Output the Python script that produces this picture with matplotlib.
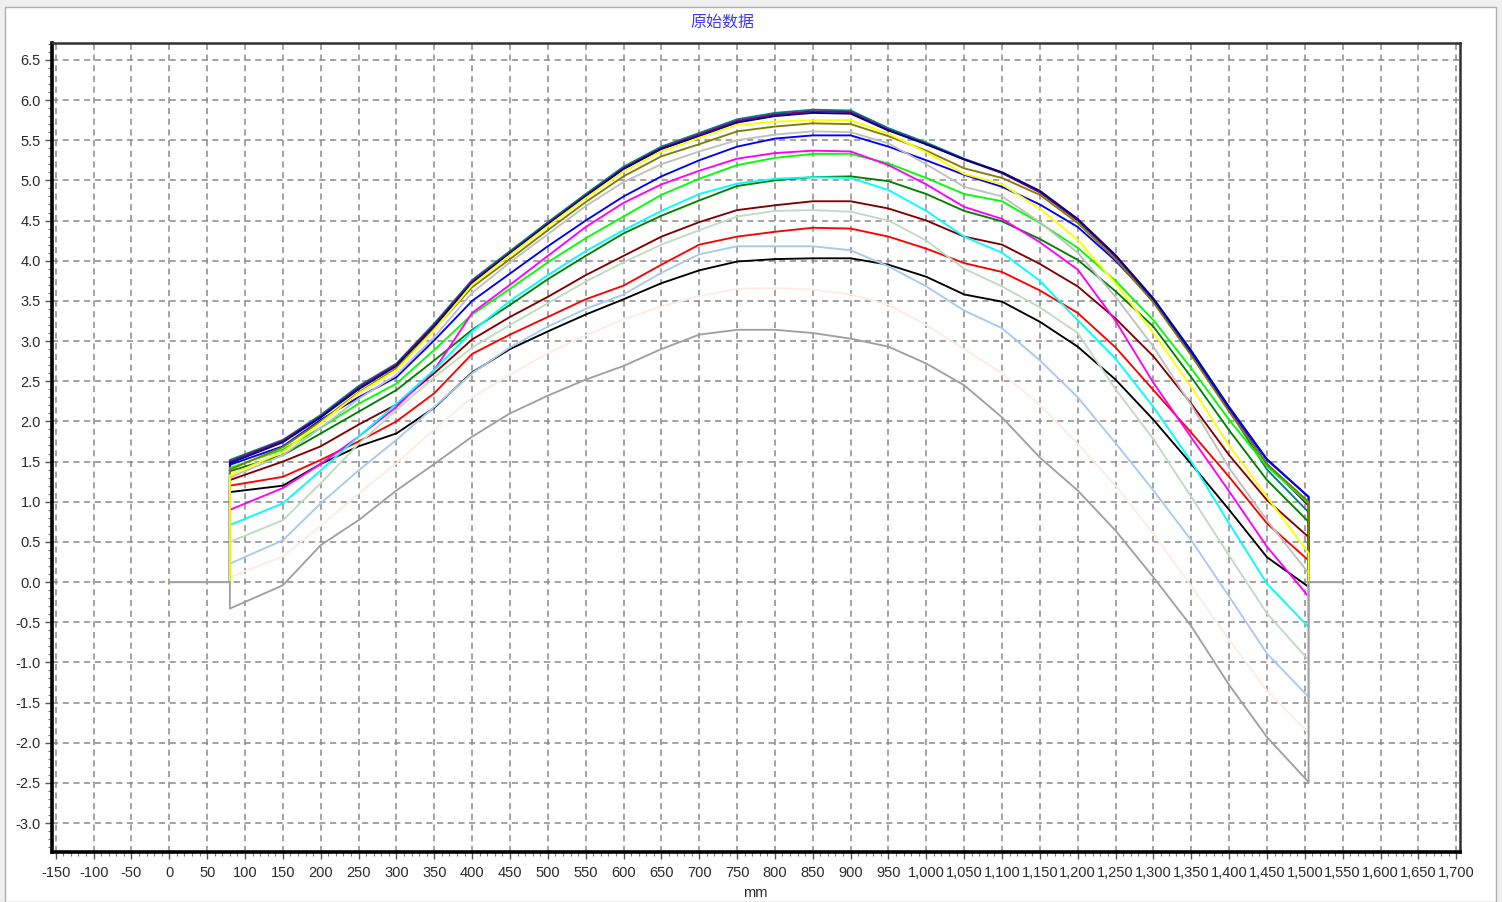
import matplotlib
matplotlib.use("Agg")
import matplotlib.pyplot as plt
from matplotlib.patches import Rectangle
from matplotlib.ticker import FixedLocator, MultipleLocator, FuncFormatter
import numpy as np

# sample positions along the profile (mm)
x_mm = [80, 150, 200, 250, 300, 350, 400, 450, 500, 550, 600, 650, 700, 750, 800, 850, 900,
        950, 1000, 1050, 1100, 1150, 1200, 1250, 1300, 1350, 1400, 1450, 1505]
# flat zero line before/after the measured part
base_left = [0, 80]
base_right = [1505, 1550]

teal    = [1.52, 1.77, 2.08, 2.44, 2.72, 3.22, 3.76, 4.12, 4.48, 4.83, 5.17, 5.42, 5.59, 5.76, 5.84, 5.88, 5.87,
           5.65, 5.47, 5.27, 5.10, 4.86, 4.51, 4.05, 3.51, 2.85, 2.14, 1.40, 0.87]
purple  = [1.50, 1.76, 2.06, 2.42, 2.71, 3.20, 3.74, 4.10, 4.46, 4.81, 5.15, 5.40, 5.57, 5.74, 5.82, 5.86, 5.85,
           5.63, 5.45, 5.26, 5.09, 4.85, 4.50, 4.05, 3.50, 2.85, 2.15, 1.47, 0.95]
navy    = [1.48, 1.74, 2.05, 2.40, 2.69, 3.18, 3.72, 4.09, 4.45, 4.80, 5.14, 5.39, 5.55, 5.72, 5.80, 5.84, 5.83,
           5.62, 5.45, 5.26, 5.10, 4.87, 4.52, 4.07, 3.53, 2.88, 2.18, 1.53, 1.06]
olive   = [1.40, 1.68, 2.00, 2.36, 2.66, 3.15, 3.67, 4.02, 4.38, 4.73, 5.05, 5.30, 5.45, 5.61, 5.67, 5.71, 5.70,
           5.55, 5.37, 5.15, 5.03, 4.82, 4.47, 4.02, 3.48, 2.82, 2.12, 1.47, 1.00]
yellow  = [1.33, 1.62, 1.98, 2.35, 2.64, 3.14, 3.70, 4.07, 4.43, 4.78, 5.11, 5.36, 5.53, 5.69, 5.73, 5.75, 5.75,
           5.58, 5.35, 5.08, 4.95, 4.65, 4.26, 3.72, 3.10, 2.43, 1.70, 1.06, 0.36]
silver  = [1.30, 1.58, 1.92, 2.28, 2.58, 3.05, 3.60, 3.98, 4.33, 4.68, 4.98, 5.20, 5.36, 5.50, 5.57, 5.61, 5.60,
           5.46, 5.20, 4.92, 4.80, 4.48, 4.10, 3.55, 2.93, 2.20, 1.42, 0.77, 0.11]
blue    = [1.46, 1.69, 2.02, 2.30, 2.55, 3.01, 3.50, 3.84, 4.18, 4.50, 4.80, 5.05, 5.25, 5.42, 5.52, 5.56, 5.56,
           5.42, 5.25, 5.07, 4.92, 4.70, 4.42, 4.00, 3.50, 2.85, 2.17, 1.52, 1.06]
magenta = [0.90, 1.17, 1.47, 1.81, 2.18, 2.64, 3.35, 3.70, 4.06, 4.42, 4.72, 4.95, 5.12, 5.27, 5.34, 5.37, 5.36,
           5.19, 4.95, 4.67, 4.52, 4.23, 3.89, 3.25, 2.48, 1.80, 1.13, 0.44, -0.18]
lime    = [1.42, 1.65, 1.92, 2.22, 2.47, 2.89, 3.33, 3.65, 3.98, 4.28, 4.55, 4.82, 5.02, 5.19, 5.28, 5.33, 5.33,
           5.21, 5.03, 4.83, 4.74, 4.47, 4.16, 3.75, 3.26, 2.66, 2.02, 1.44, 0.98]
cyan    = [0.71, 0.98, 1.39, 1.81, 2.22, 2.64, 3.12, 3.50, 3.82, 4.12, 4.38, 4.62, 4.83, 4.96, 5.02, 5.04, 5.03,
           4.88, 4.62, 4.30, 4.10, 3.75, 3.26, 2.78, 2.18, 1.50, 0.73, -0.02, -0.56]
dkgreen = [1.38, 1.58, 1.85, 2.12, 2.39, 2.76, 3.14, 3.45, 3.77, 4.06, 4.34, 4.56, 4.75, 4.93, 5.00, 5.04, 5.05,
           4.99, 4.83, 4.62, 4.49, 4.27, 4.01, 3.62, 3.18, 2.55, 1.89, 1.27, 0.75]
maroon  = [1.27, 1.50, 1.69, 1.96, 2.21, 2.60, 3.02, 3.30, 3.55, 3.82, 4.06, 4.30, 4.48, 4.63, 4.69, 4.74, 4.74,
           4.65, 4.50, 4.30, 4.20, 3.96, 3.68, 3.28, 2.81, 2.22, 1.58, 1.02, 0.56]
palegrn = [0.50, 0.77, 1.23, 1.72, 2.14, 2.55, 2.92, 3.20, 3.47, 3.74, 3.98, 4.20, 4.38, 4.55, 4.62, 4.63, 4.61,
           4.50, 4.25, 3.90, 3.68, 3.42, 3.10, 2.40, 1.78, 1.06, 0.33, -0.39, -0.97]
red     = [1.20, 1.31, 1.52, 1.75, 2.00, 2.35, 2.84, 3.08, 3.30, 3.52, 3.69, 3.95, 4.20, 4.30, 4.36, 4.41, 4.40,
           4.30, 4.15, 3.97, 3.86, 3.63, 3.35, 2.92, 2.39, 1.86, 1.31, 0.73, 0.27]
skyblue = [0.23, 0.52, 0.98, 1.39, 1.77, 2.18, 2.60, 2.92, 3.18, 3.40, 3.58, 3.85, 4.08, 4.18, 4.18, 4.18, 4.13,
           3.93, 3.68, 3.38, 3.16, 2.76, 2.30, 1.73, 1.14, 0.52, -0.18, -0.89, -1.43]
black   = [1.12, 1.20, 1.47, 1.69, 1.85, 2.17, 2.61, 2.90, 3.12, 3.33, 3.52, 3.72, 3.88, 3.99, 4.02, 4.03, 4.03,
           3.95, 3.80, 3.58, 3.49, 3.24, 2.93, 2.52, 2.02, 1.47, 0.90, 0.31, -0.06]
peach   = [0.06, 0.32, 0.70, 1.10, 1.48, 1.90, 2.30, 2.58, 2.85, 3.07, 3.27, 3.43, 3.56, 3.65, 3.66, 3.64, 3.58,
           3.45, 3.20, 2.90, 2.60, 2.20, 1.72, 1.20, 0.60, -0.05, -0.72, -1.35, -1.88]
gray    = [-0.33, -0.04, 0.46, 0.77, 1.14, 1.47, 1.81, 2.10, 2.32, 2.52, 2.69, 2.90, 3.08, 3.14, 3.14, 3.10, 3.03,
           2.93, 2.72, 2.45, 2.05, 1.55, 1.14, 0.64, 0.06, -0.55, -1.28, -1.93, -2.49]

series = [teal, purple, navy, blue, lime, dkgreen, maroon, red, black, magenta,
          silver, palegrn, skyblue, peach, cyan, olive, yellow, gray]
colors = ['#008080', '#800080', '#000080', '#0000ff', '#00ff00', '#008000', '#800000', '#ff0000', '#000000', '#ff00ff',
          '#c0c0c0', '#c0dcc0', '#a6caf0', '#ffece0', '#00ffff', '#808000', '#ffff00', '#a0a0a4']

title = '原始数据'
x_label = 'mm'
x_ticks = list(range(-150, 1701, 50))
y_ticks = [v / 10 for v in range(-30, 66, 5)]

fig = plt.figure(figsize=(15.02, 9.02), dpi=100, facecolor='#f0f0f0')
fig.patches.append(Rectangle((5 / 1502, 0), 1491 / 1502, 1 - 7 / 902, transform=fig.transFigure,
                             facecolor='white', edgecolor='#b0b0b0', lw=1, zorder=-10))

ax = fig.add_axes([52 / 1502, 1 - 852 / 902, 1408 / 1502, 809 / 902])
ax.set_zorder(1)
ax.set_facecolor('white')

xx = np.concatenate([base_left, x_mm, base_right])
for vals, col in zip(series, colors):
    yy = np.concatenate([[0, 0], vals, [0, 0]])
    ax.plot(xx, yy, color=col, lw=1.35, solid_joinstyle='round')

ax.set_xlim(-155, 1705)
ax.set_ylim(-3.36, 6.71)

tick_font = dict(family=['Liberation Sans Narrow', 'Liberation Sans', 'DejaVu Sans'], size=10.5)
ax.xaxis.set_major_locator(FixedLocator(x_ticks))
ax.xaxis.set_minor_locator(MultipleLocator(10))
ax.yaxis.set_major_locator(FixedLocator(y_ticks))
ax.yaxis.set_minor_locator(MultipleLocator(0.1))
ax.xaxis.set_major_formatter(FuncFormatter(lambda v, p: f'{int(round(v)):,}'))
ax.yaxis.set_major_formatter(FuncFormatter(lambda v, p: f'{v:.1f}' if abs(v) > 1e-9 else '0.0'))
for lab in ax.get_xticklabels() + ax.get_yticklabels():
    lab.set_fontfamily(tick_font['family'])
    lab.set_fontsize(tick_font['size'])
    lab.set_color('#2a2a2a')
ax.tick_params(which='major', direction='out', length=5, width=1, color='#555555')
ax.tick_params(axis='x', which='major', pad=5)
ax.tick_params(axis='y', which='major', pad=3)
ax.tick_params(which='minor', direction='out', length=3, width=0.8, color='#777777')

ax.grid(True, which='major', color='#8a8a8a', linestyle=(0, (4, 3)), lw=1.1)
ax.set_axisbelow(True)

for side in ['left', 'bottom']:
    ax.spines[side].set_linewidth(2.6)
    ax.spines[side].set_color('black')
for side in ['top', 'right']:
    ax.spines[side].set_linewidth(1.8)
    ax.spines[side].set_color('#303030')

fig.text(722 / 1502, 1 - 22 / 902, title, color='#3a3aff', fontsize=11.5,
         family=['Noto Sans CJK SC', 'DejaVu Sans'], ha='center', va='center')
fig.text(755 / 1502, 1 - 893 / 902, x_label, color='#2a2a2a', fontsize=10.5,
         family=['Liberation Sans Narrow', 'Liberation Sans', 'DejaVu Sans'], ha='center', va='center')

fig.savefig('out.png', dpi=100, facecolor=fig.get_facecolor())
